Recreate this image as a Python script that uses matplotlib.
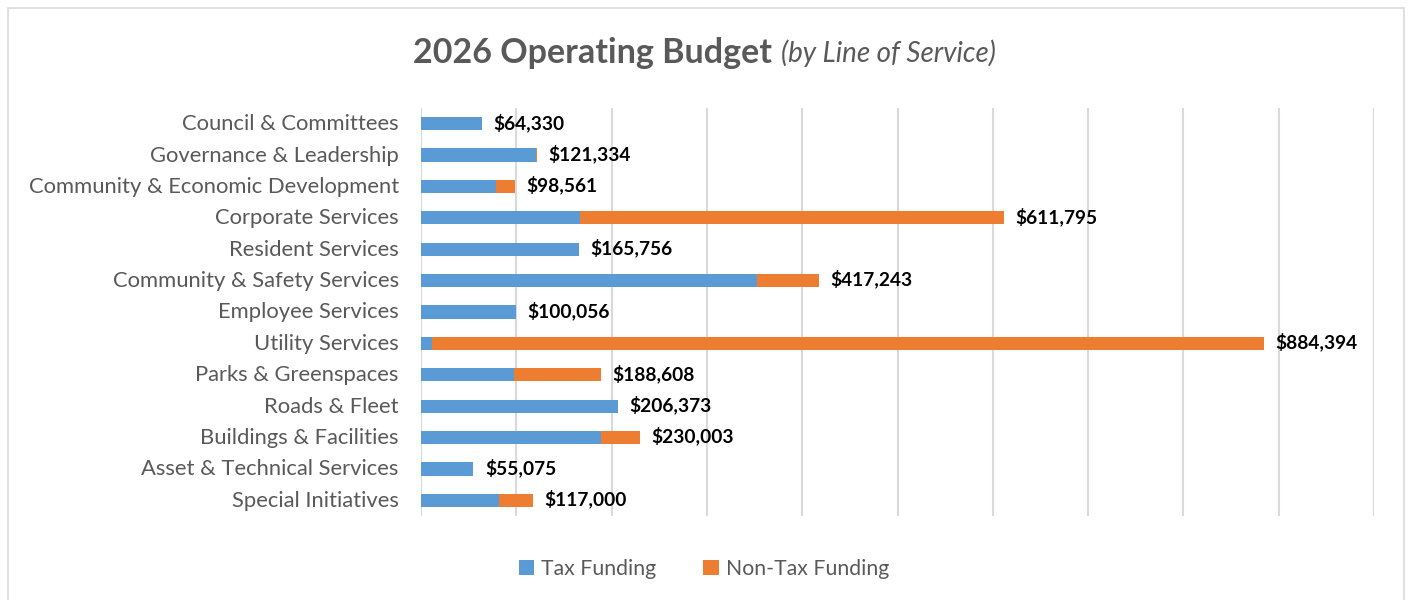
import matplotlib
matplotlib.use("Agg")
from matplotlib import pyplot as plt
from matplotlib.patches import Rectangle
import numpy as np

plt.rcParams['font.family'] = ['Lato', 'DejaVu Sans']

services = ["Council & Committees", "Governance & Leadership",
            "Community & Economic Development", "Corporate Services",
            "Resident Services", "Community & Safety Services",
            "Employee Services", "Utility Services", "Parks & Greenspaces",
            "Roads & Fleet", "Buildings & Facilities",
            "Asset & Technical Services", "Special Initiatives"]
totals = [64330, 121334, 98561, 611795, 165756, 417243, 100056,
          884394, 188608, 206373, 230003, 55075, 117000]
tax = [64330, 120500, 79000, 166800, 165756, 352900, 100056,
       11900, 97900, 206373, 189200, 55075, 81500]
non_tax = [t - x for t, x in zip(totals, tax)]

blue = "#5B9BD5"
orange = "#ED7D31"
grey_txt = "#595959"

fig = plt.figure(figsize=(14.08, 6), dpi=100)
ax = fig.add_axes([421/1408, 1-516/600, (1374-421)/1408, (516-108)/600])

y = np.arange(len(services))
ax.barh(y, tax, height=0.42, color=blue, label="Tax Funding", zorder=3)
ax.barh(y, non_tax, left=tax, height=0.42, color=orange,
        label="Non-Tax Funding", zorder=3)

for yi, t in zip(y, totals):
    ax.text(t + 12000, yi - 0.04, "${:,}".format(t), va="center", ha="left",
            fontsize=13.8, fontweight="bold", color="black")

ax.set_xlim(0, 1000000)
ax.set_ylim(len(services) - 0.5, -0.5)
ax.set_yticks(y - 0.05)
ax.set_yticklabels(services, fontsize=15.8, color=grey_txt)
ax.set_xticks(np.arange(0, 1000001, 100000))
ax.set_xticklabels([])
ax.tick_params(length=0, pad=16)
ax.grid(axis="x", color="#D9D9D9", linewidth=1.5, zorder=0)
for s in ax.spines.values():
    s.set_visible(False)

# title in two styles
fig.text(772/1408, 1-53/600, "2026 Operating Budget", ha="right", va="center",
         fontsize=24.5, fontweight="bold", color=grey_txt)
fig.text(781/1408, 1-53/600, "(by Line of Service)", ha="left", va="center",
         fontsize=20, style="italic", color=grey_txt)

fig.legend(loc="center", bbox_to_anchor=(0.5, 1-569/600), ncol=2,
           frameon=False, fontsize=15.3, labelcolor=grey_txt,
           handlelength=0.72, handleheight=0.72, columnspacing=2.2,
           handletextpad=0.35)

fig.patches.append(Rectangle((8/1408, -0.01), (1404-8)/1408, 1-8/600+0.01,
                             transform=fig.transFigure, fill=False,
                             edgecolor="#D9D9D9", linewidth=1.2))

fig.savefig("out.png", dpi=100, facecolor="white")
